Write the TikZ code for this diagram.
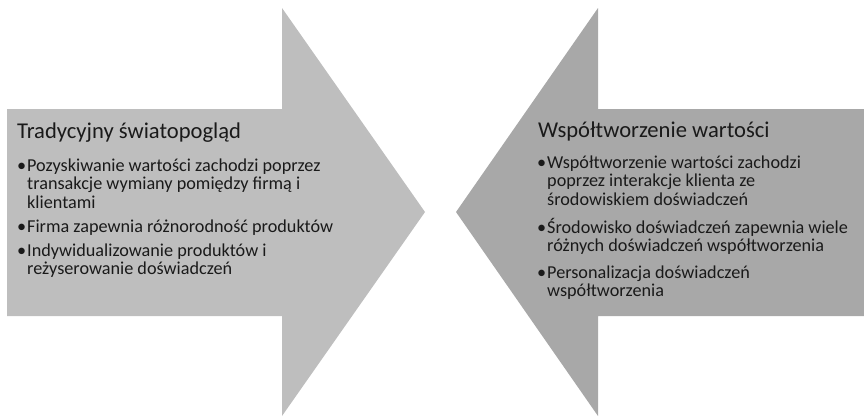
\documentclass[tikz,border=0pt]{standalone}
\usepackage{fontspec}
\setmainfont{Carlito}
\begin{document}
\begin{tikzpicture}[x=1pt,y=-1pt,
  leftfill/.style={fill=arrowL,draw=none},
  rightfill/.style={fill=arrowR,draw=none},
  heading/.style={anchor=base west,inner sep=0pt,font=\fontsize{22.6}{26}\selectfont,text=ink},
  itemline/.style={anchor=base west,inner sep=0pt,font=\fontsize{18.2}{21}\selectfont,text=ink},
  dot/.style={anchor=base west,inner sep=0pt,font=\fontsize{18.2}{21}\selectfont,text=ink}]
\definecolor{arrowL}{HTML}{BEBEBE}
\definecolor{arrowR}{HTML}{A8A8A8}
\definecolor{ink}{HTML}{1A1A1A}
\useasboundingbox (0,0) rectangle (864,416);

% right-pointing arrow (traditional view)
\fill[leftfill] (7,109) -- (282,109) -- (282,8) -- (425,212) -- (282,416)
  -- (282,316) -- (7,316) -- cycle;
% left-pointing arrow (value co-creation)
\fill[rightfill] (864,109) -- (598,109) -- (598,8) -- (456,212) -- (598,416)
  -- (598,316) -- (864,316) -- cycle;

% traditional view text
\node[heading] (lt) at (17,138) {Tradycyjny światopogląd};
\node[dot] (lb1) at (17,171) {•};
\node[dot] (lb2) at (17,232) {•};
\node[dot] (lb3) at (17,256) {•};
\foreach \t [count=\i] in {Pozyskiwanie wartości zachodzi poprzez,
    transakcje wymiany pomiędzy firmą i, klientami}
  \node[itemline] (la\i) at (27,{171+18.6*(\i-1)}) {\t};
\node[itemline] (lc1) at (27,232) {Firma zapewnia różnorodność produktów};
\foreach \t [count=\i] in {Indywidualizowanie produktów i,
    reżyserowanie doświadczeń}
  \node[itemline] (ld\i) at (27,{256+18.6*(\i-1)}) {\t};

% co-creation text
\node[heading] (rt) at (538,137) {Współtworzenie wartości};
\node[dot] (rb1) at (537,168) {•};
\node[dot] (rb2) at (537,233) {•};
\node[dot] (rb3) at (537,278) {•};
\foreach \t [count=\i] in {Współtworzenie wartości zachodzi,
    poprzez interakcje klienta ze, środowiskiem doświadczeń}
  \node[itemline] (ra\i) at (547,{168+18.8*(\i-1)}) {\t};
\foreach \t [count=\i] in {Środowisko doświadczeń zapewnia wiele,
    różnych doświadczeń współtworzenia}
  \node[itemline] (rc\i) at (547,{233+18.8*(\i-1)}) {\t};
\foreach \t [count=\i] in {Personalizacja doświadczeń,
    współtworzenia}
  \node[itemline] (rd\i) at (547,{278+18.8*(\i-1)}) {\t};
\end{tikzpicture}
\end{document}
